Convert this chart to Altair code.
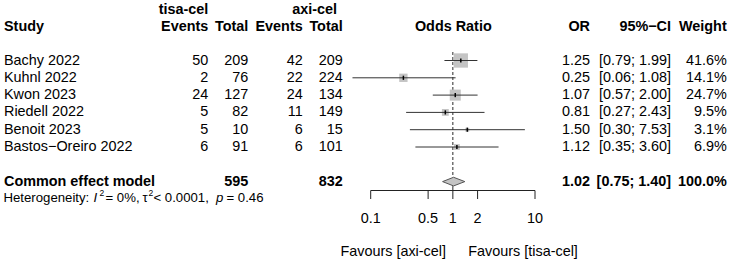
import altair as alt
import pandas as pd

# ---------------- data ----------------
studies = ["Bachy 2022", "Kuhnl 2022", "Kwon 2023", "Riedell 2022", "Benoit 2023", "Bastos\u2212Oreiro 2022"]
tisa_events = [50, 2, 24, 5, 5, 6]
tisa_total = [209, 76, 127, 82, 10, 91]
axi_events = [42, 22, 24, 11, 6, 6]
axi_total = [209, 224, 134, 149, 15, 101]
odds_ratio = [1.25, 0.25, 1.07, 0.81, 1.50, 1.12]
ci_low = [0.79, 0.06, 0.57, 0.27, 0.30, 0.35]
ci_high = [1.99, 1.08, 2.00, 2.43, 7.53, 3.60]
weights = [41.6, 14.1, 24.7, 9.5, 3.1, 6.9]

pooled_label = "Common effect model"
pooled_tisa_total = 595
pooled_axi_total = 832
pooled_or = [1.02]
pooled_low = [0.75]
pooled_high = [1.40]
pooled_weight = 100.0

axis_ticks = [0.1, 0.5, 1, 2, 10]
axis_tick_labels = ["0.1", "0.5", "1", "2", "10"]
favours_left = "Favours [axi-cel]"
favours_right = "Favours [tisa-cel]"

# ---------------- layout ----------------
FONT = "Liberation Sans"
FS = 14.4
ROW0, ROWH = 60.5, 17.3
X = alt.Scale(type="log", domain=[0.1, 10], range=[370.7, 535])
Y = alt.Scale(type="linear", domain=[0, 11], range=[ROW0, ROW0 + 11 * ROWH])


def r(px):
    return (px - ROW0) / ROWH


POOL_ROW = 7
AXIS_ROW = r(190.5)
TICK_END = r(199.0)
TICKLAB_ROW = r(218.5)
FAV_ROW = r(252.0)
HEAD_ROW = r(26.7)
GROUP_ROW = r(10.0)
HET_ROW = r(197.5)

df = pd.DataFrame({
    "row": list(range(len(studies))),
    "study": studies,
    "te": [str(v) for v in tisa_events],
    "tt": [str(v) for v in tisa_total],
    "ae": [str(v) for v in axi_events],
    "at": [str(v) for v in axi_total],
    "or": odds_ratio,
    "lo": ci_low,
    "hi": ci_high,
    "w": weights,
    "or_txt": [f"{v:.2f}" for v in odds_ratio],
    "ci_txt": [f"[{a:.2f}; {b:.2f}]" for a, b in zip(ci_low, ci_high)],
    "w_txt": [f"{v:.1f}%" for v in weights],
})

layers = []


def label(text, px, row, align="left", weight="normal", size=FS, style="normal", dy=0):
    d = pd.DataFrame({"row": [row], "label": [text]})
    return alt.Chart(d).mark_text(
        align=align, baseline="middle", font=FONT, fontSize=size,
        fontWeight=weight, fontStyle=style, color="black", dy=dy
    ).encode(x=alt.value(px), y=alt.Y("row:Q", scale=Y, axis=None), text="label:N")


def column(field, px, align="right"):
    return alt.Chart(df).mark_text(
        align=align, baseline="middle", font=FONT, fontSize=FS, color="black"
    ).encode(x=alt.value(px), y=alt.Y("row:Q", scale=Y, axis=None), text=f"{field}:N")


# headers
layers += [
    label("tisa-cel", 183.5, GROUP_ROW, "center", "bold"),
    label("axi-cel", 314.7, GROUP_ROW, "center", "bold"),
    label("Study", 4, HEAD_ROW, "left", "bold"),
    label("Events", 208.3, HEAD_ROW, "right", "bold"),
    label("Total", 248.3, HEAD_ROW, "right", "bold"),
    label("Events", 302.7, HEAD_ROW, "right", "bold"),
    label("Total", 342.7, HEAD_ROW, "right", "bold"),
    label("Odds Ratio", 453.3, HEAD_ROW, "center", "bold"),
    label("OR", 590, HEAD_ROW, "right", "bold"),
    label("95%\u2212CI", 671, HEAD_ROW, "right", "bold"),
    label("Weight", 726.7, HEAD_ROW, "right", "bold"),
]

# study columns
layers += [
    column("study", 4, "left"),
    column("te", 208.3),
    column("tt", 248.3),
    column("ae", 302.7),
    column("at", 342.7),
    column("or_txt", 590),
    column("ci_txt", 671),
    column("w_txt", 726.7),
]

# pooled row
layers += [
    label(pooled_label, 4, POOL_ROW, "left", "bold"),
    label(str(pooled_tisa_total), 248.3, POOL_ROW, "right", "bold"),
    label(str(pooled_axi_total), 342.7, POOL_ROW, "right", "bold"),
    label(f"{pooled_or[0]:.2f}", 590, POOL_ROW, "right", "bold"),
    label(f"[{pooled_low[0]:.2f}; {pooled_high[0]:.2f}]", 671, POOL_ROW, "right", "bold"),
    label(f"{pooled_weight:.1f}%", 726.7, POOL_ROW, "right", "bold"),
]

# heterogeneity line
HS = 13.2
SUP = 8.5
layers += [
    label("Heterogeneity:", 3.5, HET_ROW, size=HS),
    label("I", 93.5, HET_ROW, size=HS, style="italic"),
    label("2", 99.5, HET_ROW, size=SUP, dy=-4.5),
    label("= 0%,", 105.5, HET_ROW, size=HS),
    label("\u03c4", 142.5, HET_ROW, size=HS),
    label("2", 148.5, HET_ROW, size=SUP, dy=-4.5),
    label("< 0.0001,", 153.5, HET_ROW, size=HS),
    label("p", 216, HET_ROW, size=HS, style="italic"),
    label("= 0.46", 226.5, HET_ROW, size=HS),
]

# reference lines
ref_top = pd.DataFrame({"x": [1.0], "y": [r(52)], "y2": [POOL_ROW - 0.26]})
ref_bot = pd.DataFrame({"x": [1.0], "y": [POOL_ROW + 0.26], "y2": [AXIS_ROW]})
layers += [
    alt.Chart(ref_top).mark_rule(color="#2a2a2a", strokeWidth=1, strokeDash=[3, 2]).encode(
        x=alt.X("x:Q", scale=X, axis=None), y=alt.Y("y:Q", scale=Y, axis=None), y2="y2:Q"),
    alt.Chart(ref_bot).mark_rule(color="#2a2a2a", strokeWidth=1).encode(
        x=alt.X("x:Q", scale=X, axis=None), y=alt.Y("y:Q", scale=Y, axis=None), y2="y2:Q"),
]

# squares, CI lines, point ticks
layers += [
    alt.Chart(df).mark_square(color="#c4c4c4", opacity=1).encode(
        x=alt.X("or:Q", scale=X, axis=None),
        y=alt.Y("row:Q", scale=Y, axis=None),
        size=alt.Size("w:Q", scale=alt.Scale(domain=[0, 41.6], range=[0, 205]), legend=None)),
    alt.Chart(df).mark_rule(color="#333333", strokeWidth=1).encode(
        x=alt.X("lo:Q", scale=X, axis=None), x2="hi:Q",
        y=alt.Y("row:Q", scale=Y, axis=None)),
    alt.Chart(df).transform_calculate(r1="datum.row - 0.12", r2="datum.row + 0.12").mark_rule(
        color="black", strokeWidth=1.5).encode(
        x=alt.X("or:Q", scale=X, axis=None),
        y=alt.Y("r1:Q", scale=Y, axis=None), y2="r2:Q"),
]

# diamond
dia = pd.DataFrame({
    "x": [pooled_low[0], pooled_or[0], pooled_high[0]],
    "y": [POOL_ROW, POOL_ROW - 0.25, POOL_ROW],
    "y2": [POOL_ROW, POOL_ROW + 0.25, POOL_ROW],
})
layers.append(
    alt.Chart(dia).mark_area(fill="#c4c4c4", stroke="#555555", strokeWidth=1, opacity=1).encode(
        x=alt.X("x:Q", scale=X, axis=None), y=alt.Y("y:Q", scale=Y, axis=None), y2="y2:Q")
)

# x axis drawn through the log scale
axis_line = pd.DataFrame({"x": [axis_ticks[0]], "x2": [axis_ticks[-1]], "y": [AXIS_ROW]})
ticks = pd.DataFrame({"x": axis_ticks, "lab": axis_tick_labels, "y": AXIS_ROW, "y2": TICK_END, "yl": TICKLAB_ROW})
layers += [
    alt.Chart(axis_line).mark_rule(color="#222222", strokeWidth=1).encode(
        x=alt.X("x:Q", scale=X, axis=None), x2="x2:Q", y=alt.Y("y:Q", scale=Y, axis=None)),
    alt.Chart(ticks).mark_rule(color="#222222", strokeWidth=1).encode(
        x=alt.X("x:Q", scale=X, axis=None), y=alt.Y("y:Q", scale=Y, axis=None), y2="y2:Q"),
    alt.Chart(ticks).mark_text(font=FONT, fontSize=FS, color="black", align="center", baseline="middle").encode(
        x=alt.X("x:Q", scale=X, axis=None), y=alt.Y("yl:Q", scale=Y, axis=None), text="lab:N"),
    label(favours_left, 446, FAV_ROW, "right"),
    label(favours_right, 468.3, FAV_ROW, "left"),
]

chart = alt.layer(*layers).properties(
    width=730, height=264, padding=0,
    autosize=alt.AutoSizeParams(type="none"),
    background="white",
).configure_view(stroke=None)

chart.save("out.html", embed_options={"renderer": "svg", "actions": False})
